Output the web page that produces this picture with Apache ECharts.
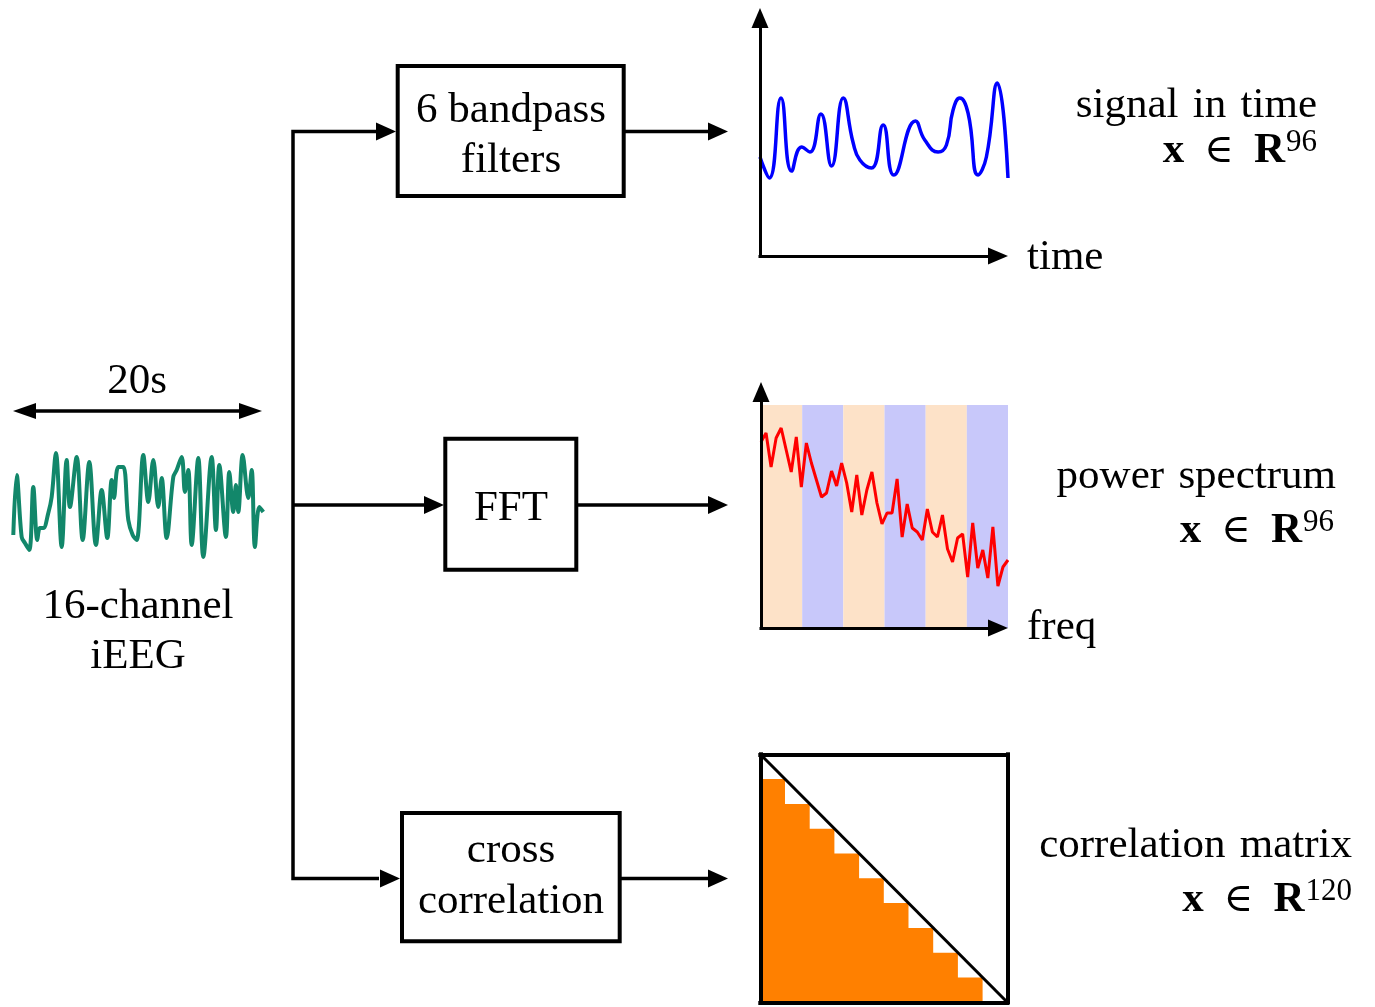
<!DOCTYPE html>
<html><head><meta charset="utf-8">
<script src="https://cdn.jsdelivr.net/npm/echarts@6/dist/echarts.min.js"></script>
<style>html,body{margin:0;padding:0;background:#fff}#c{width:1375px;height:1007px}</style>
</head><body><div id="c"></div><script>
// ---- data ----
// 16-channel iEEG snippet (20 s window)
const eegTime  = [0,0.27,0.67,0.93,1.28,1.6,1.92,2.13,2.4,2.8,3.07,3.41,3.87,4.27,4.53,5.07,5.55,6.08,6.61,7.07,7.52,7.87,8.05,8.4,8.8,9.2,9.55,9.87,10.4,10.8,11.2,11.6,11.87,12.27,12.8,13.07,13.47,13.73,14.0,14.27,14.8,15.2,15.87,16.21,16.48,17.01,17.28,17.6,17.81,18.0,18.35,18.8,19.07,19.33,19.68,20];
const eegValue = [25,85,23,17,10,73,20,32,32,47,63,107,13,100,53,103,20,98,15,70,22,80,62,93,93,40,25,20,105,58,100,53,82,22,83,90,103,68,90,15,102,3,103,30,95,23,88,48,75,48,105,62,90,13,53,48];
// band-passed signal in time
const sigTime  = [0,3.76,8.46,12.75,16.78,20.13,24.56,28.86,33.56,37.58,40.27,44.97,49.66,53.96,62.68,66.44,71.81,75.17,77.85,80.54,83.89,87.92,91.28,95.7,100];
const sigValue = [23,2,82,9,33,28,66,14,82,37,20,12,55,5,59,40,28,35,70,82,67,5,23,97,2];
// power spectrum (one value per frequency bin)
const spectrum = [186,195,161,190,200,178,156,191,141,185,165,148,131,135,157,142,165,145,116,153,113,138,156,125,104,115,115,149,91,124,100,96,88,119,96,91,113,79,66,90,94,51,105,60,78,50,101,42,61,68];
// six frequency bands (bin edges)
const bandEdges = [0,8.17,16.33,24.5,32.67,40.83,49];
const bandTop = 223;
const bandColors = ['#fde2c8','#c8c8fa'];
// correlation matrix: filled cells per column (strict lower triangle)
const corrSize = 10;
const corrStairs = [9,8,7,6,5,4,3,2,1,0];

// labels
const leftTop = '20s';
const leftLabel = ['16-channel','iEEG'];
const boxLabels = [['6 bandpass','filters'],['FFT'],['cross','correlation']];
const axisNames = ['time','freq'];
const featureNames = ['signal\u2004in\u2004time','power\u2004spectrum','correlation\u2004matrix'];
const featureDims = ['96','96','120'];

// ---- build ----
const SERIF = "'Liberation Serif','DejaVu Serif',serif";
const hidden = {show:false};
function dataAxis(grid, min, max){return {type:'value', gridIndex:grid, min, max, show:false};}
function frameAxis(grid, pos, width, arrow){
  return {type:'value', gridIndex:grid, min:0, max:1, position:pos, z:10,
    axisLine:{show:true, onZero:false, symbol: arrow?['none','triangle']:'none', symbolSize:[17,20],
      lineStyle:{color:'#000', width, cap:'square'}},
    axisTick:hidden, axisLabel:hidden, splitLine:hidden};
}
const DY = 3;
function txt(s, x, y, align, size){
  return {type:'text', x, y:y+DY, silent:true, z:20, style:{text:s, font:(size||43)+'px '+SERIF, fill:'#000',
    align:align||'center', verticalAlign:'middle', textAlign:align||'center', textVerticalAlign:'middle'}};
}
function mathTxt(dim, x, y){
  return {type:'text', x, y:y+DY, silent:true, z:20, style:{
    text:'{b|x}{n|\u2002\u2208\u2002}{b|R}{s|'+dim+'}', fill:'#000',
    align:'right', verticalAlign:'middle', textAlign:'right', textVerticalAlign:'middle',
    rich:{
      b:{font:'bold 43px '+SERIF, fontFamily:SERIF, fontSize:43, fontWeight:'bold', fill:'#000', color:'#000'},
      n:{font:'40px '+SERIF, fontFamily:SERIF, fontSize:40, fill:'#000', color:'#000'},
      s:{font:'31px '+SERIF, fontFamily:SERIF, fontSize:31, fill:'#000', color:'#000', padding:[0,0,16,1]}
    }}};
}
const LW = 3.5;
function line(pts){return {type:'polyline', silent:true, z:5, shape:{points:pts}, style:{stroke:'#000', lineWidth:LW, fill:null}};}
function arrowHead(tipX, y, dir, len, half){
  return {type:'polygon', silent:true, z:6, shape:{points:[[tipX,y],[tipX-dir*len,y-half],[tipX-dir*len,y+half]]}, style:{fill:'#000'}};
}
function box(x,y,w,h){return {type:'rect', silent:true, z:5, shape:{x,y,width:w,height:h}, style:{stroke:'#000', lineWidth:4, fill:'#fff'}};}

const graphics = [
  // connectors
  line([[376,131.5],[293,131.5],[293,878.5],[379,878.5]]), arrowHead(396,131.5,1,20,9), arrowHead(400,878.5,1,20,9),
  line([[293,505],[424,505]]), arrowHead(444,505,1,20,9),
  line([[624,131.5],[709,131.5]]), arrowHead(728,131.5,1,20,9),
  line([[577,505],[709,505]]), arrowHead(728,505,1,20,9),
  line([[620,878.5],[709,878.5]]), arrowHead(728,878.5,1,20,9),
  // 20 s double arrow
  line([[34,411],[241,411]]), arrowHead(13,411,-1,23,8), arrowHead(262,411,1,23,8),
  // boxes
  box(397.7,66,226,130), box(445.3,438.7,131,131), box(402,813,217.7,128.3),
  // texts
  txt(leftTop,137,379), txt(leftLabel[0],138,604), txt(leftLabel[1],138,654),
  txt(boxLabels[0][0],511,108), txt(boxLabels[0][1],511,158),
  txt(boxLabels[1][0],511,506),
  txt(boxLabels[2][0],511,848), txt(boxLabels[2][1],511,899),
  txt(axisNames[0],1027,255,'left'), txt(axisNames[1],1027,625,'left'),
  txt(featureNames[0],1317,103,'right'), mathTxt(featureDims[0],1317,148),
  txt(featureNames[1],1336,474,'right'), mathTxt(featureDims[1],1334,528),
  txt(featureNames[2],1352,843,'right'), mathTxt(featureDims[2],1352,897)
];

const bandData = [];
for (let i=0;i<bandEdges.length-1;i++) bandData.push([bandEdges[i], bandEdges[i+1], i%2]);
const stairData = corrStairs.map((h,j)=>[j,h]).concat([[corrSize,0]]);

const option = {
  animation:false,
  backgroundColor:'#fff',
  grid:[
    {left:13.3, top:450, width:250, height:110},          // 0 eeg
    {left:760, top:18, width:238, height:238},           // 1 time frame
    {left:760, top:70, width:248, height:110},           // 2 time data
    {left:761, top:392, width:237, height:236},          // 3 freq frame
    {left:761, top:405, width:247, height:223},          // 4 freq data
    {left:760.3, top:754.3, width:247, height:248}       // 5 corr
  ],
  xAxis:[
    dataAxis(0,0,20),
    frameAxis(1,'bottom',3,true),
    dataAxis(2,0,100),
    frameAxis(3,'bottom',3,true),
    dataAxis(4,0,spectrum.length-1),
    Object.assign(frameAxis(5,'bottom',4,false),{min:0,max:corrSize}),
    Object.assign(frameAxis(5,'top',4,false),{min:0,max:corrSize})
  ],
  yAxis:[
    dataAxis(0,0,110),
    frameAxis(1,'left',3,true),
    dataAxis(2,0,110),
    frameAxis(3,'left',3,true),
    dataAxis(4,0,bandTop),
    Object.assign(frameAxis(5,'left',4,false),{min:0,max:corrSize}),
    Object.assign(frameAxis(5,'right',4,false),{min:0,max:corrSize})
  ],
  series:[
    {type:'line', xAxisIndex:0, yAxisIndex:0, data:eegTime.map((t,i)=>[t,eegValue[i]]), showSymbol:false, smooth:0.35,
     lineStyle:{color:'#12876a', width:4}, clip:false, silent:true},
    {type:'line', xAxisIndex:2, yAxisIndex:2, data:sigTime.map((t,i)=>[t,sigValue[i]]), showSymbol:false, smooth:0.5,
     lineStyle:{color:'#0000ff', width:3.5}, clip:false, silent:true},
    {type:'custom', xAxisIndex:4, yAxisIndex:4, z:1, silent:true, data:bandData,
     renderItem:function(params, api){
       const p0 = api.coord([api.value(0), bandTop]);
       const p1 = api.coord([api.value(1), 0]);
       return {type:'rect', shape:{x:p0[0], y:p0[1], width:p1[0]-p0[0], height:p1[1]-p0[1]},
               style:{fill:bandColors[api.value(2)]}};
     }},
    {type:'line', xAxisIndex:4, yAxisIndex:4, z:3, data:spectrum.map((v,i)=>[i,v]), showSymbol:false,
     lineStyle:{color:'#ff0000', width:3}, silent:true},
    {type:'line', xAxisIndex:5, yAxisIndex:5, z:2, data:stairData, step:'end', showSymbol:false,
     lineStyle:{width:0}, areaStyle:{color:'#ff8000', opacity:1}, silent:true},
    {type:'line', xAxisIndex:5, yAxisIndex:5, z:4, data:[[0,corrSize],[corrSize,0]], showSymbol:false,
     lineStyle:{color:'#000', width:3}, silent:true}
  ],
  graphic:graphics
};
const chart = echarts.init(document.getElementById('c'), null, {renderer:'canvas'});
chart.setOption(option);
</script></body></html>
